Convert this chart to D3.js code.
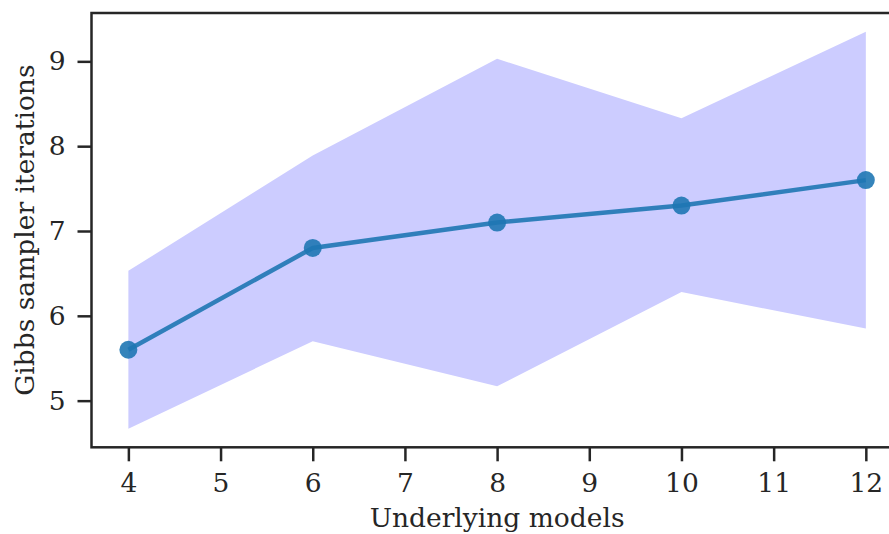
<!DOCTYPE html>
<html>
<head>
<meta charset="utf-8">
<script src="https://cdn.jsdelivr.net/npm/d3@7"></script>
<style>
  body { margin: 0; background: #fff; }
  svg { display: block; }
  .axis text { font-family: "DejaVu Serif", serif; font-size: 26.5px; fill: #262626; }
  .axis path, .axis line { stroke: #262626; stroke-width: 2.5; }
  .label { font-family: "DejaVu Serif", serif; font-size: 26.5px; fill: #262626; }
</style>
</head>
<body>
<script>
// number of underlying models
const models = [4, 6, 8, 10, 12];
// mean Gibbs sampler iterations
const meanIters = [5.6, 6.8, 7.1, 7.3, 7.6];
// band edges (mean +/- spread)
const upperIters = [6.53, 7.89, 9.03, 8.33, 9.35];
const lowerIters = [4.67, 5.70, 5.17, 6.28, 5.85];
const xTicks = [4, 5, 6, 7, 8, 9, 10, 11, 12];
const yTicks = [5, 6, 7, 8, 9];

const width = 889, height = 534;
const margin = {top: 13, left: 91.5, bottom: 447.3};
const plotRight = 902.7;

const svg = d3.select("body").append("svg")
    .attr("width", width)
    .attr("height", height);

const x = d3.scaleLinear().domain([3.6, 12.4]).range([margin.left, plotRight]);
const y = d3.scaleLinear().domain([4.45, 9.57]).range([margin.bottom, margin.top]);

const rows = models.map((m, i) => ({m: m, mean: meanIters[i], hi: upperIters[i], lo: lowerIters[i]}));

// shaded band
svg.append("path")
    .datum(rows)
    .attr("fill", "#ccccff")
    .attr("d", d3.area()
      .x(d => x(d.m))
      .y0(d => y(d.lo))
      .y1(d => y(d.hi)));

// mean line + markers
svg.append("path")
    .datum(rows)
    .attr("fill", "none")
    .attr("stroke", "#1f77b4")
    .attr("stroke-opacity", 0.9)
    .attr("stroke-width", 4.5)
    .attr("d", d3.line().x(d => x(d.m)).y(d => y(d.mean)));

svg.selectAll(".dot")
    .data(rows)
  .enter().append("circle")
    .attr("class", "dot")
    .attr("cx", d => x(d.m))
    .attr("cy", d => y(d.mean))
    .attr("r", 9)
    .attr("fill", "#1f77b4")
    .attr("fill-opacity", 0.9);

// frame
svg.append("rect")
    .attr("x", margin.left)
    .attr("y", margin.top)
    .attr("width", plotRight - margin.left)
    .attr("height", margin.bottom - margin.top)
    .attr("fill", "none")
    .attr("stroke", "#262626")
    .attr("stroke-width", 2.5);

const xAxis = svg.append("g")
    .attr("class", "axis")
    .attr("transform", "translate(0," + margin.bottom + ")")
    .call(d3.axisBottom(x).tickValues(xTicks).tickSize(14).tickPadding(12).tickFormat(d3.format("d")));
xAxis.select(".domain").remove();

const yAxis = svg.append("g")
    .attr("class", "axis")
    .attr("transform", "translate(" + margin.left + ",0)")
    .call(d3.axisLeft(y).tickValues(yTicks).tickSize(14).tickPadding(12).tickFormat(d3.format("d")));
yAxis.select(".domain").remove();

svg.append("text")
    .attr("class", "label")
    .attr("x", (margin.left + plotRight) / 2)
    .attr("y", 527)
    .attr("text-anchor", "middle")
    .text("Underlying models");

svg.append("text")
    .attr("class", "label")
    .attr("transform", "translate(34," + (margin.top + margin.bottom) / 2 + ") rotate(-90)")
    .attr("text-anchor", "middle")
    .text("Gibbs sampler iterations");
</script>
</body>
</html>
